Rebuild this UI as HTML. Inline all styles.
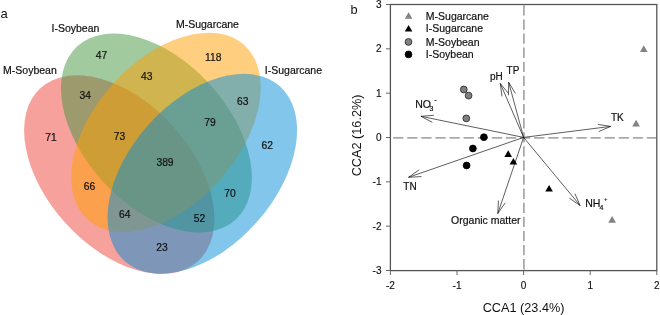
<!DOCTYPE html>
<html><head><meta charset="utf-8"><style>
html,body{margin:0;padding:0;background:#fff;}
body{width:660px;height:315px;overflow:hidden;}
svg{display:block;}
</style></head><body>
<div style="will-change:transform"><svg width="660" height="315" viewBox="0 0 660 315"><g fill-opacity="0.5"><ellipse cx="119.27" cy="174.59" rx="117.01" ry="72.36" fill="#EF4339" transform="rotate(47.76 119.27 174.59)"/><ellipse cx="156.41" cy="132.99" rx="117.43" ry="72.27" fill="#449540" transform="rotate(47.64 156.41 132.99)"/><ellipse cx="166.0" cy="132.4" rx="117.2" ry="71.9" fill="#FFA000" transform="rotate(-48.2 166.0 132.4)"/><ellipse cx="202.32" cy="173.77" rx="116.84" ry="72.87" fill="#068ED8" transform="rotate(-48.43 202.32 173.77)"/></g><g font-family="Liberation Sans, sans-serif" font-size="10.3" fill="#111" stroke="#111" stroke-width="0.2" text-anchor="middle"><text x="101.5" y="58.69">47</text><text x="213.2" y="61.19">118</text><text x="146.7" y="80.29">43</text><text x="85.2" y="98.59">34</text><text x="242.8" y="104.99">63</text><text x="210" y="125.69">79</text><text x="51" y="140.89">71</text><text x="119.5" y="139.69">73</text><text x="267.2" y="149.39">62</text><text x="165" y="165.69">389</text><text x="89.5" y="189.79">66</text><text x="230.1" y="197.39">70</text><text x="124.8" y="217.59">64</text><text x="199.5" y="221.59">52</text><text x="161.9" y="251.39">23</text></g><g font-family="Liberation Sans, sans-serif" font-size="10.5" fill="#111" stroke="#111" stroke-width="0.2"><text x="3.1" y="74.4">M-Soybean</text><text x="51.5" y="31.8">I-Soybean</text><text x="175.9" y="28.3">M-Sugarcane</text><text x="264.8" y="74.0">I-Sugarcane</text></g><text x="0.5" y="17.8" font-family="Liberation Sans, sans-serif" font-size="13" fill="#111">a</text><text x="350.5" y="14.1" font-family="Liberation Sans, sans-serif" font-size="12.8" fill="#111">b</text><g stroke="#aaaaaa" stroke-width="1.8" stroke-dasharray="10.3,3.8"><line x1="523.9" y1="5.3" x2="523.9" y2="269.5"/><line x1="393.1" y1="137.9" x2="656.5" y2="137.9"/></g><rect x="390.4" y="4.5" width="266.4" height="266.1" fill="none" stroke="#555" stroke-width="1.3"/><g stroke="#666" stroke-width="1"><line x1="386" y1="270.49" x2="390.4" y2="270.49"/><line x1="386" y1="226.16" x2="390.4" y2="226.16"/><line x1="386" y1="181.83" x2="390.4" y2="181.83"/><line x1="386" y1="137.50" x2="390.4" y2="137.50"/><line x1="386" y1="93.17" x2="390.4" y2="93.17"/><line x1="386" y1="48.84" x2="390.4" y2="48.84"/><line x1="386" y1="4.51" x2="390.4" y2="4.51"/><line x1="390.40" y1="270.6" x2="390.40" y2="275"/><line x1="457.00" y1="270.6" x2="457.00" y2="275"/><line x1="523.60" y1="270.6" x2="523.60" y2="275"/><line x1="590.20" y1="270.6" x2="590.20" y2="275"/><line x1="656.80" y1="270.6" x2="656.80" y2="275"/></g><g font-family="Liberation Sans, sans-serif" font-size="10" fill="#111" stroke="#111" stroke-width="0.15"><text x="381.5" y="270.49" text-anchor="end" dominant-baseline="central">-3</text><text x="381.5" y="226.16" text-anchor="end" dominant-baseline="central">-2</text><text x="381.5" y="181.83" text-anchor="end" dominant-baseline="central">-1</text><text x="381.5" y="137.50" text-anchor="end" dominant-baseline="central">0</text><text x="381.5" y="93.17" text-anchor="end" dominant-baseline="central">1</text><text x="381.5" y="48.84" text-anchor="end" dominant-baseline="central">2</text><text x="381.5" y="4.51" text-anchor="end" dominant-baseline="central">3</text><text x="390.40" y="289.2" text-anchor="middle">-2</text><text x="457.00" y="289.2" text-anchor="middle">-1</text><text x="523.60" y="289.2" text-anchor="middle">0</text><text x="590.20" y="289.2" text-anchor="middle">1</text><text x="656.80" y="289.2" text-anchor="middle">2</text></g><text x="523.6" y="311.8" text-anchor="middle" font-family="Liberation Sans, sans-serif" font-size="12.7" fill="#111">CCA1 (23.4%)</text><text transform="translate(360.8 135.4) rotate(-90)" text-anchor="middle" font-family="Liberation Sans, sans-serif" font-size="12.7" fill="#111">CCA2 (16.2%)</text><g stroke="#1a1a1a" stroke-width="0.7" fill="none"><line x1="523.6" y1="137.4" x2="420.9" y2="116.3"/><polyline points="433.86,115.30 420.9,116.3 432.42,122.32"/><line x1="523.6" y1="137.4" x2="500.3" y2="83.5"/><polyline points="508.55,93.55 500.3,83.5 501.97,96.39"/><line x1="523.6" y1="137.4" x2="508.7" y2="82.3"/><polyline points="515.42,93.43 508.7,82.3 508.50,95.30"/><line x1="523.6" y1="137.4" x2="610.7" y2="126.4"/><polyline points="598.75,131.52 610.7,126.4 597.85,124.41"/><line x1="523.6" y1="137.4" x2="408.5" y2="177.3"/><polyline points="419.13,169.82 408.5,177.3 421.48,176.59"/><line x1="523.6" y1="137.4" x2="497.8" y2="213.5"/><polyline points="498.42,200.51 497.8,213.5 505.21,202.82"/><line x1="523.6" y1="137.4" x2="580.1" y2="205.5"/><polyline points="569.36,198.17 580.1,205.5 574.88,193.59"/></g><polygon points="640.00,51.90 647.60,51.90 643.80,45.30" fill="#828282"/><polygon points="632.30,126.40 639.90,126.40 636.10,119.80" fill="#828282"/><polygon points="608.30,222.70 615.90,222.70 612.10,216.10" fill="#828282"/><polygon points="504.40,156.90 512.00,156.90 508.20,150.30" fill="#000"/><polygon points="509.60,164.50 517.20,164.50 513.40,157.90" fill="#000"/><polygon points="545.30,191.60 552.90,191.60 549.10,185.00" fill="#000"/><circle cx="463.8" cy="89.5" r="3.4" fill="#808080" stroke="#222" stroke-width="0.8"/><circle cx="468.6" cy="95.6" r="3.4" fill="#808080" stroke="#222" stroke-width="0.8"/><circle cx="466.3" cy="118.4" r="3.4" fill="#808080" stroke="#222" stroke-width="0.8"/><circle cx="483.9" cy="137.2" r="3.4" fill="#000" stroke="#000" stroke-width="0.8"/><circle cx="472.9" cy="148.5" r="3.4" fill="#000" stroke="#000" stroke-width="0.8"/><circle cx="466.6" cy="165.5" r="3.4" fill="#000" stroke="#000" stroke-width="0.8"/><polygon points="404.80,18.80 412.40,18.80 408.60,12.20" fill="#828282"/><polygon points="404.80,31.50 412.40,31.50 408.60,24.90" fill="#000"/><circle cx="408.5" cy="41.9" r="3.4" fill="#808080" stroke="#222" stroke-width="0.8"/><circle cx="408.5" cy="54.4" r="3.4" fill="#000" stroke="#000" stroke-width="0.8"/><g font-family="Liberation Sans, sans-serif" font-size="10.5" fill="#111" stroke="#111" stroke-width="0.2"><text x="425.8" y="19.8">M-Sugarcane</text><text x="425.8" y="32.4">I-Sugarcane</text><text x="425.8" y="45.8">M-Soybean</text><text x="425.8" y="58.4">I-Soybean</text><text x="415.2" y="107.7">NO</text><text x="429.4" y="110.6" font-size="7">3</text><text x="434.2" y="101.6" font-size="7">-</text><g font-size="10"><text x="489.9" y="80.1">pH</text><text x="506.6" y="73.6">TP</text><text x="611.0" y="120.8">TK</text><text x="403.3" y="190.0">TN</text></g><text x="451.1" y="224.2">Organic matter</text><text x="585.2" y="207">NH</text><text x="599.5" y="209.8" font-size="7">4</text><text x="604" y="201.2" font-size="6" stroke-width="0.1">+</text></g></svg></div>
</body></html>
